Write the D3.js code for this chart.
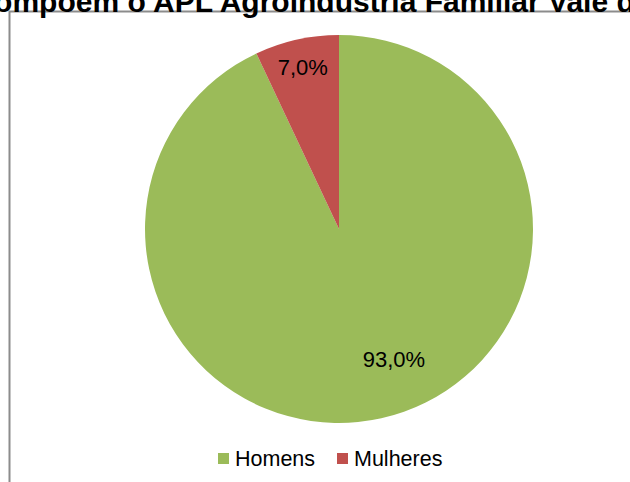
<!DOCTYPE html>
<html>
<head>
<meta charset="utf-8">
<script src="https://cdn.jsdelivr.net/npm/d3@7"></script>
<style>
  body { margin: 0; background: #fff; }
  svg { display: block; font-family: "Liberation Sans", Arial, sans-serif; }
</style>
</head>
<body>
<div id="chart"></div>
<script>
// chart data
var categories = ["Homens", "Mulheres"];
var values = [93.0, 7.0];
var colors = ["#9BBB59", "#C0504D"];
var titleText = "compõem o APL Agroindústria Familiar Vale do";

var svgWidth = 630;
var svgHeight = 482;

var svg = d3.select("#chart").append("svg")
    .attr("width", svgWidth)
    .attr("height", svgHeight);

// chart border (runs off the right and bottom of the picture)
svg.append("rect")
    .attr("x", 9.5)
    .attr("y", 11.5)
    .attr("width", 700)
    .attr("height", 600)
    .attr("fill", "none")
    .attr("stroke", "#8c8c8c")
    .attr("stroke-width", 2);

// title, cut at the top of the picture
var titleSize = 30;
var title = svg.append("text")
    .attr("y", 12)
    .attr("font-size", titleSize)
    .attr("font-weight", "bold")
    .attr("fill", "#000")
    .text(titleText);

// put "Agroindústria" where it sits in the picture
var probe = svg.append("text")
    .attr("font-size", titleSize)
    .attr("font-weight", "bold")
    .text("compõem o APL ");
var prefixW = probe.node().getComputedTextLength();
probe.remove();
title.attr("x", 213 - prefixW);

var cx = 339, cy = 229, radius = 194;

var pie = d3.pie().sort(null).value(d => d);
var arc = d3.arc().innerRadius(0).outerRadius(radius);

var pieGroup = svg.append("g")
    .attr("transform", `translate(${cx}, ${cy})`);

var arcs = pie(values);

pieGroup.selectAll("path")
    .data(arcs)
    .enter()
    .append("path")
    .attr("d", arc)
    .attr("fill", (d, i) => colors[i]);

// data labels
function labelPos(d) {
    var big = (d.endAngle - d.startAngle) > Math.PI;
    var r = big ? 141 : 166;
    var a = (d.startAngle + d.endAngle) / 2 + (big ? -0.18 : 0);
    return [Math.sin(a) * r, -Math.cos(a) * r];
}

pieGroup.selectAll("text.label")
    .data(arcs)
    .enter()
    .append("text")
    .attr("class", "label")
    .attr("x", d => labelPos(d)[0])
    .attr("y", d => labelPos(d)[1])
    .attr("dy", "0.35em")
    .attr("text-anchor", "middle")
    .attr("font-size", 22)
    .attr("fill", "#000")
    .text(d => d.value.toFixed(1).replace(".", ",") + "%");

// legend
var legend = svg.append("g");
var legendX = [218, 337];

var items = legend.selectAll("g")
    .data(categories)
    .enter()
    .append("g")
    .attr("transform", (d, i) => `translate(${legendX[i]}, 453)`);

items.append("rect")
    .attr("width", 11)
    .attr("height", 11)
    .attr("fill", (d, i) => colors[i]);

items.append("text")
    .attr("x", 17)
    .attr("y", 13)
    .attr("font-size", 21.5)
    .attr("fill", "#000")
    .text(d => d);
</script>
</body>
</html>
